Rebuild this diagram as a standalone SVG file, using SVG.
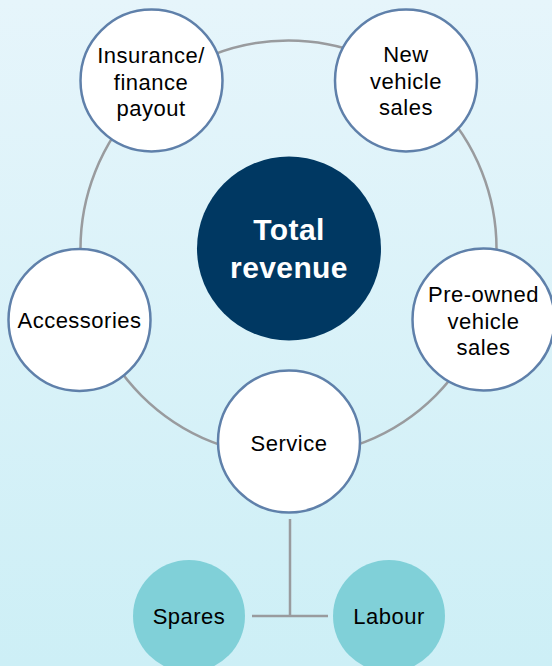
<svg xmlns="http://www.w3.org/2000/svg" width="552" height="666" viewBox="0 0 552 666">
<defs>
<linearGradient id="bg" x1="0" y1="0" x2="0" y2="1">
<stop offset="0" stop-color="#e6f5fb"/>
<stop offset="1" stop-color="#cdeff6"/>
</linearGradient>
</defs>
<style>
.conn{fill:none;stroke:#999b9e;stroke-width:2.5}
.node{fill:#ffffff;stroke:#5f80aa;stroke-width:2.5}
.sub{fill:#80d0d8}
.lbl{font-family:"Liberation Sans",Arial,Helvetica,sans-serif;font-size:22px;fill:#000;text-anchor:middle;letter-spacing:0.5px}
.ttl{font-family:"Liberation Sans",Arial,Helvetica,sans-serif;font-size:30px;font-weight:bold;fill:#ffffff;text-anchor:middle;letter-spacing:0.4px}
</style>
<rect x="0" y="0" width="552" height="666" fill="url(#bg)"/>
<g id="connectors">
<circle class="conn" cx="288.5" cy="248.5" r="208"/>
<line class="conn" x1="290" y1="519" x2="290" y2="616"/>
<line class="conn" x1="252" y1="616" x2="328" y2="616"/>
</g>
<g id="total-revenue">
<circle cx="289" cy="248.5" r="92" fill="#003862"/>
<text class="ttl" x="289" y="240">Total</text>
<text class="ttl" x="289" y="278">revenue</text>
</g>
<g id="insurance">
<circle class="node" cx="151.5" cy="80.5" r="71"/>
<text class="lbl" x="151" y="63">Insurance/</text>
<text class="lbl" x="151" y="89.5">finance</text>
<text class="lbl" x="151" y="115.5">payout</text>
</g>
<g id="new-vehicle">
<circle class="node" cx="406" cy="80.5" r="71"/>
<text class="lbl" x="406" y="62">New</text>
<text class="lbl" x="406" y="88.5">vehicle</text>
<text class="lbl" x="406" y="115">sales</text>
</g>
<g id="pre-owned">
<circle class="node" cx="483.5" cy="319.5" r="71"/>
<text class="lbl" x="483.5" y="302">Pre-owned</text>
<text class="lbl" x="483.5" y="328.5">vehicle</text>
<text class="lbl" x="483.5" y="354.5">sales</text>
</g>
<g id="accessories">
<circle class="node" cx="79.5" cy="320" r="71"/>
<text class="lbl" x="79.5" y="328">Accessories</text>
</g>
<g id="service">
<circle class="node" cx="289" cy="441.5" r="71"/>
<text class="lbl" x="289" y="451">Service</text>
</g>
<g id="spares">
<circle class="sub" cx="189" cy="616" r="56"/>
<text class="lbl" x="189" y="624">Spares</text>
</g>
<g id="labour">
<circle class="sub" cx="389" cy="616" r="56"/>
<text class="lbl" x="389" y="624">Labour</text>
</g>
</svg>
